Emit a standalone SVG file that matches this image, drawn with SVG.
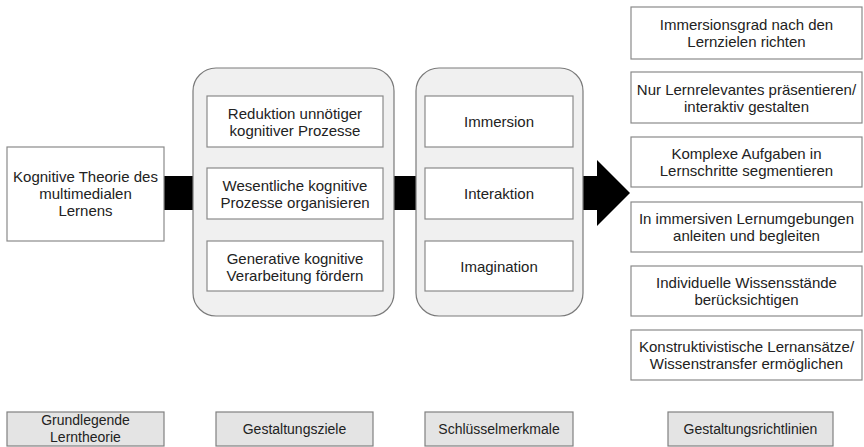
<svg xmlns="http://www.w3.org/2000/svg" width="864" height="447" viewBox="0 0 864 447">
  <style>
    text { font-family: "Liberation Sans", Arial, sans-serif; font-size: 15px; fill: #222222; text-anchor: middle; }
    .caption text { font-size: 14px; }
    .box { fill: #ffffff; stroke: #8a8a8a; stroke-width: 1.2; }
    .group { fill: #f0f0f0; stroke: #7a7a7a; stroke-width: 1.2; }
    .label { fill: #e4e4e4; stroke: #808080; stroke-width: 1.2; }
    .bar { fill: #000000; }
  </style>

  <!-- thick black connectors -->
  <g id="connectors">
    <rect class="bar" x="163" y="176" width="31" height="34"/>
    <rect class="bar" x="393" y="176" width="24" height="34"/>
    <polygon class="bar" points="582,176 597,176 597,160 630,193 597,226 597,210 582,210"/>
  </g>

  <!-- basic learning theory -->
  <g id="theory">
    <rect class="box" x="7" y="147" width="157" height="94"/>
    <text x="85.5" y="182">Kognitive Theorie des</text>
    <text x="85.5" y="199">multimedialen</text>
    <text x="85.5" y="216">Lernens</text>
  </g>

  <!-- design goals -->
  <g id="goals">
    <rect class="group" x="193" y="68" width="201" height="248" rx="23" ry="23"/>
    <g id="goal-1">
      <rect class="box" x="207" y="96" width="176" height="51"/>
      <text x="295" y="119">Reduktion unnötiger</text>
      <text x="295" y="136">kognitiver Prozesse</text>
    </g>
    <g id="goal-2">
      <rect class="box" x="207" y="168" width="176" height="51"/>
      <text x="295" y="191">Wesentliche kognitive</text>
      <text x="295" y="208">Prozesse organisieren</text>
    </g>
    <g id="goal-3">
      <rect class="box" x="207" y="241" width="176" height="50"/>
      <text x="295" y="263.5">Generative kognitive</text>
      <text x="295" y="280.5">Verarbeitung fördern</text>
    </g>
  </g>

  <!-- key features -->
  <g id="features">
    <rect class="group" x="416" y="68" width="167" height="248" rx="23" ry="23"/>
    <g id="feature-1">
      <rect class="box" x="425" y="96" width="148" height="51"/>
      <text x="499" y="127">Immersion</text>
    </g>
    <g id="feature-2">
      <rect class="box" x="425" y="168" width="148" height="51"/>
      <text x="499" y="199">Interaktion</text>
    </g>
    <g id="feature-3">
      <rect class="box" x="425" y="241" width="148" height="50"/>
      <text x="499" y="271.5">Imagination</text>
    </g>
  </g>

  <!-- design guidelines -->
  <g id="guideline-1">
    <rect class="box" x="631" y="7" width="231" height="52"/>
    <text x="746.5" y="30">Immersionsgrad nach den</text>
    <text x="746.5" y="47">Lernzielen richten</text>
  </g>
  <g id="guideline-2">
    <rect class="box" x="631" y="72" width="231" height="51"/>
    <text x="746.5" y="94.5">Nur Lernrelevantes präsentieren/</text>
    <text x="746.5" y="111.5">interaktiv gestalten</text>
  </g>
  <g id="guideline-3">
    <rect class="box" x="631" y="137" width="231" height="50"/>
    <text x="746.5" y="159">Komplexe Aufgaben in</text>
    <text x="746.5" y="176">Lernschritte segmentieren</text>
  </g>
  <g id="guideline-4">
    <rect class="box" x="631" y="202" width="231" height="50"/>
    <text x="746.5" y="224">In immersiven Lernumgebungen</text>
    <text x="746.5" y="241">anleiten und begleiten</text>
  </g>
  <g id="guideline-5">
    <rect class="box" x="631" y="266" width="231" height="50"/>
    <text x="746.5" y="288">Individuelle Wissensstände</text>
    <text x="746.5" y="305">berücksichtigen</text>
  </g>
  <g id="guideline-6">
    <rect class="box" x="631" y="330" width="231" height="50"/>
    <text x="746.5" y="352">Konstruktivistische Lernansätze/</text>
    <text x="746.5" y="369">Wissenstransfer ermöglichen</text>
  </g>

  <!-- column captions -->
  <g id="caption-theory" class="caption">
    <rect class="label" x="7" y="412" width="157" height="34"/>
    <text x="85.5" y="425">Grundlegende</text>
    <text x="85.5" y="442">Lerntheorie</text>
  </g>
  <g id="caption-goals" class="caption">
    <rect class="label" x="216" y="412" width="157" height="34"/>
    <text x="294.5" y="434">Gestaltungsziele</text>
  </g>
  <g id="caption-features" class="caption">
    <rect class="label" x="425" y="412" width="148" height="34"/>
    <text x="499" y="434">Schlüsselmerkmale</text>
  </g>
  <g id="caption-guidelines" class="caption">
    <rect class="label" x="668" y="412" width="165" height="34"/>
    <text x="750.5" y="434">Gestaltungsrichtlinien</text>
  </g>
</svg>
